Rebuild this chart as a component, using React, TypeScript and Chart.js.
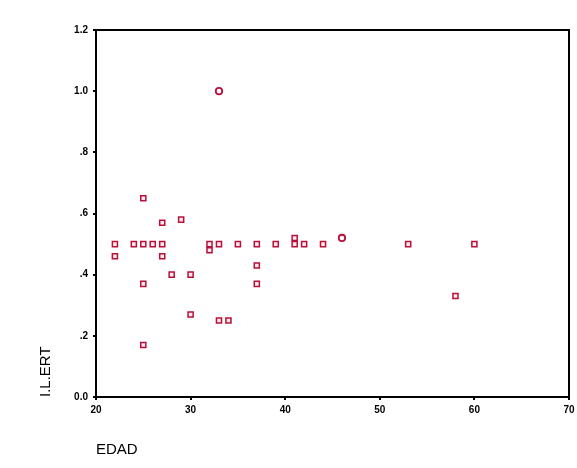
import React, { useEffect, useRef } from "react";
import { Chart, registerables } from "chart.js";

Chart.register(...registerables);

// Data: EDAD (x) vs I.L.ERT (y)
const squareX = [25, 27, 29, 22, 24, 25, 26, 27, 32, 33, 35, 37, 39, 41, 42, 44, 53, 60, 41, 22, 27, 32, 28, 30, 37, 25, 37, 30, 33, 34, 25, 58];
const squareY = [0.65, 0.57, 0.58, 0.5, 0.5, 0.5, 0.5, 0.5, 0.5, 0.5, 0.5, 0.5, 0.5, 0.5, 0.5, 0.5, 0.5, 0.5, 0.52, 0.46, 0.46, 0.48, 0.4, 0.4, 0.43, 0.37, 0.37, 0.27, 0.25, 0.25, 0.17, 0.33];
const circleX = [33, 46];
const circleY = [1.0, 0.52];

const xTicks = [20, 30, 40, 50, 60, 70];
const yTicks = [0, 0.2, 0.4, 0.6, 0.8, 1.0, 1.2];
const yTickLabels = ["0.0", ".2", ".4", ".6", ".8", "1.0", "1.2"];

const xTitle = "EDAD";
const yTitle = "I.L.ERT";

const RED = "#b8103a";

const boxPlugin = {
  id: "boxPlugin",
  afterDatasetsDraw(chart: any) {
    const { ctx, chartArea } = chart;
    ctx.save();
    ctx.strokeStyle = "#000";
    ctx.lineWidth = 2;
    ctx.strokeRect(chartArea.left, chartArea.top, chartArea.right - chartArea.left, chartArea.bottom - chartArea.top);
    ctx.restore();
  },
};

export default function App() {
  const ref = useRef<HTMLCanvasElement | null>(null);

  useEffect(() => {
    document.body.style.margin = "0";
    const canvas = ref.current;
    if (!canvas) return;
    const tickFont = { family: "'Liberation Sans', Arial, sans-serif", size: 10, weight: "bold" as const };
    const titleFont = { family: "'Liberation Sans', Arial, sans-serif", size: 15 };
    const chart = new Chart(canvas, {
      type: "scatter",
      data: {
        datasets: [
          {
            data: squareX.map((x, i) => ({ x, y: squareY[i] })),
            pointStyle: "rect",
            pointRadius: 3.6,
            borderColor: RED,
            backgroundColor: "#fbe9ee",
            borderWidth: 1.5,
          },
          {
            data: circleX.map((x, i) => ({ x, y: circleY[i] })),
            pointStyle: "circle",
            pointRadius: 3.2,
            borderColor: RED,
            backgroundColor: "#ffffff",
            borderWidth: 1.8,
          },
        ],
      },
      options: {
        animation: false,
        responsive: false,
        maintainAspectRatio: false,
        layout: { padding: { top: 30, right: 8, left: 0, bottom: 0 } },
        plugins: { legend: { display: false }, tooltip: { enabled: false } },
        scales: {
          x: {
            type: "linear",
            min: 20,
            max: 70,
            afterBuildTicks: (s: any) => {
              s.ticks = xTicks.map((v) => ({ value: v }));
            },
            afterFit: (s: any) => {
              s.height = 71;
              s.paddingRight = 0;
              s.paddingLeft = 0;
            },
            ticks: { color: "#000", font: tickFont, padding: 4, maxRotation: 0, autoSkip: false },
            grid: { drawOnChartArea: false, drawTicks: true, tickLength: 3, color: "#000", lineWidth: 2 },
            border: { color: "#000", width: 2 },
            title: { display: true, text: xTitle, align: "start", color: "#000", font: titleFont, padding: { top: 0, bottom: 9 } },
          },
          y: {
            type: "linear",
            min: 0,
            max: 1.2,
            afterBuildTicks: (s: any) => {
              s.ticks = yTicks.map((v) => ({ value: v }));
            },
            afterFit: (s: any) => {
              s.width = 96;
              s.paddingTop = 0;
              s.paddingBottom = 0;
            },
            ticks: {
              color: "#000",
              font: tickFont,
              padding: 5,
              autoSkip: false,
              callback: (_v: any, i: number) => yTickLabels[i],
            },
            grid: { drawOnChartArea: false, drawTicks: true, tickLength: 3, color: "#000", lineWidth: 2 },
            border: { color: "#000", width: 2 },
            title: { display: true, text: yTitle, align: "start", color: "#000", font: titleFont, padding: { top: 37, bottom: 0 } },
          },
        },
      },
      plugins: [boxPlugin],
    } as any);
    return () => chart.destroy();
  }, []);

  return (
    <div style={{ position: "fixed", left: 0, top: 0, width: 577, height: 468, background: "#fff" }}>
      <canvas ref={ref} width={577} height={468} style={{ width: 577, height: 468, display: "block" }} />
    </div>
  );
}
